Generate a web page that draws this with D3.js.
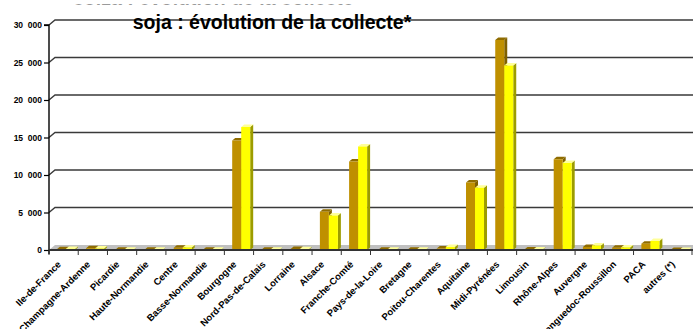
<!DOCTYPE html>
<html><head><meta charset="utf-8">
<script src="https://cdn.jsdelivr.net/npm/d3@7"></script>
<style>body{margin:0;background:#fff}svg{display:block}text{font-family:Arial,"Liberation Sans",sans-serif}</style>
</head><body>
<svg id="c" width="693" height="329"></svg>
<script>
const categories = ["Ile-de-France","Champagne-Ardenne","Picardie","Haute-Normandie","Centre","Basse-Normandie","Bourgogne","Nord-Pas-de-Calais","Lorraine","Alsace","Franche-Comté","Pays-de-la-Loire","Bretagne","Poitou-Charentes","Aquitaine","Midi-Pyrénées","Limousin","Rhône-Alpes","Auvergne","Languedoc-Roussillon","PACA","autres (*)"];
const seriesA = [100,250,50,50,300,50,14600,50,150,5100,11800,50,50,200,9000,28000,80,12100,400,300,850,0];
const seriesB = [150,200,50,50,350,50,16400,50,100,4600,13800,50,50,400,8300,24600,80,11600,600,350,1200,0];
const yTicks = [0,5000,10000,15000,20000,25000,30000];
const title = "soja : évolution de la collecte*";
const hiddenTitle = "colza : évolution de la collecte*";

const svg = d3.select("#c");
const left = 49, right = 692, y0 = 250, yTop = 25;
const dx = 6, dy = -5;
const x = d3.scaleBand().domain(categories).range([left, right]).padding(0);
const y = d3.scaleLinear().domain([0, 30000]).range([y0, yTop]);
const bw = x.bandwidth();
const x1 = d3.scaleBand().domain(["A","B"]).range([bw*0.268, bw*0.268 + 18]);
const fmt = v => d3.format(",")(v).replace(/,/g, "\u2007");

// partially hidden title fragment at the very top
svg.append("text").attr("x",73).attr("y",5)
  .attr("font-size",19.5).attr("font-weight","bold").attr("fill","#000").text(hiddenTitle);
svg.append("rect").attr("x",0).attr("y",0).attr("width",693).attr("height",4.6).attr("fill","#fff");

// floor
svg.append("path")
  .attr("d", `M${left},${y0} L${left+dx},${y0+dy} L${693},${y0+dy} L${693},${y0} Z`)
  .attr("fill","#c0c0c0");

// gridlines with perspective
const g = svg.append("g");
yTicks.filter(t => t > 0).forEach(t => {
  const yy = y(t);
  g.append("path")
    .attr("d", `M${left},${yy} L${left+dx},${yy+dy} L${693},${yy+dy}`)
    .attr("fill","none").attr("stroke","#3a3a3a").attr("stroke-width",1.4);
});

// y axis
const yAxis = d3.axisLeft(y).tickValues(yTicks).tickSize(5).tickPadding(2).tickFormat(fmt);
const ya = svg.append("g").attr("transform",`translate(${left},0)`).call(yAxis);
ya.select(".domain").attr("stroke","#000").attr("stroke-width",1.4).attr("d",`M-5,${yTop}H0V${y0+4}`);
ya.selectAll(".tick line").attr("stroke","#000").attr("stroke-width",1.2);
ya.selectAll("text").attr("font-size",8.5).attr("font-weight","bold").attr("fill","#000").attr("dy","0.35em");

// bars
const colors = {
  A: {front:"#bf9000", side:"#7f6000", top:"#8f6c00"},
  B: {front:"#ffff00", side:"#9c9c00", top:"#ffff99"}
};
const bd = 3, bdy = -2.5;
const data = [];
categories.forEach((c,i) => {
  data.push({c, s:"A", v: seriesA[i]});
  data.push({c, s:"B", v: seriesB[i]});
});
const bars = svg.append("g");
data.forEach(d => {
  const bx = x(d.c) + x1(d.s), w = x1.bandwidth();
  const top = y(d.v), col = colors[d.s];
  const h = y0 - top;
  const gb = bars.append("g");
  gb.append("path").attr("d",`M${bx+w},${y0} L${bx+w+bd},${y0+bdy} L${bx+w+bd},${top+bdy} L${bx+w},${top} Z`).attr("fill",col.side);
  gb.append("path").attr("d",`M${bx},${top} L${bx+bd},${top+bdy} L${bx+w+bd},${top+bdy} L${bx+w},${top} Z`).attr("fill",col.top);
  gb.append("rect").attr("x",bx).attr("y",top).attr("width",w).attr("height",Math.max(0,h)).attr("fill",col.front);
});

// x axis
const xAxis = d3.axisBottom(x).tickSize(0).tickFormat(d => d);
const xa = svg.append("g").attr("transform",`translate(0,${y0})`).call(xAxis);
xa.select(".domain").attr("stroke","#333").attr("stroke-width",2).attr("d",`M${left},0H693`);
xa.selectAll(".tick text")
  .attr("font-size",9.5).attr("font-weight","bold").attr("fill","#000")
  .attr("text-anchor","end").attr("dy",0).attr("y",0)
  .attr("transform","translate(-2,15) rotate(-45)");
// boundary ticks
svg.append("g").selectAll("line").data(categories.concat(["_end"])).join("line")
  .attr("x1",(d,i)=> left + i*bw).attr("x2",(d,i)=> left + i*bw)
  .attr("y1",y0).attr("y2",y0+5).attr("stroke","#333").attr("stroke-width",1);

// title
svg.append("text").attr("x",272).attr("y",28.5).attr("text-anchor","middle")
  .attr("font-size",19.5).attr("font-weight","bold").attr("fill","#000").text(title);
</script>
</body></html>
